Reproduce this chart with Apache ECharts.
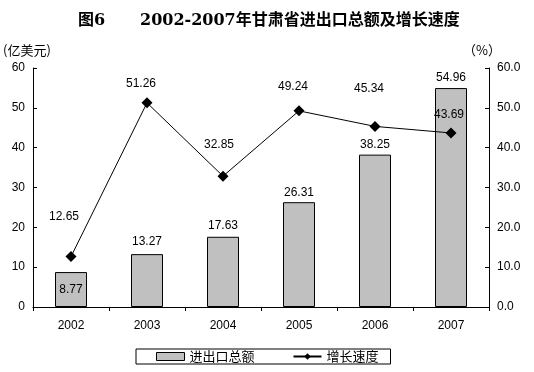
<!DOCTYPE html>
<html><head><meta charset="utf-8">
<script src="https://cdn.jsdelivr.net/npm/echarts@6/dist/echarts.min.js"></script>
<style>html,body{margin:0;padding:0;background:#fff}#c{width:534px;height:372px}</style>
</head><body><div id="c"></div>
<script>
var categories = ['2002','2003','2004','2005','2006','2007'];
var tradeTotal = [8.77, 13.27, 17.63, 26.31, 38.25, 54.96];
var growthRate = [12.65, 51.26, 32.85, 49.24, 45.34, 43.69];
var leftTicks = [0,10,20,30,40,50,60];
var rightTicks = [0,10,20,30,40,50,60];

// label styling (offsets in px), separate from data
var lineLabelOffsets = [[-7,-28],[-6,-8],[-4,-20],[-6,-13],[-6,-26],[-2,-7]];
var barLabelOffsets = [[0,0],[0,-2],[0,-1],[0,0],[0,0],[0,0]];

var font = 'Liberation Sans, Arial, sans-serif';
var chart = echarts.init(document.getElementById('c'));
chart.setOption({
  animation: false,
  title: [
    {text:'图6', left:73, top:8, textStyle:{fontSize:16, fontWeight:'bold', color:'#000', fontFamily:'"DejaVu Serif", "Noto Sans CJK SC", serif'}},
    {text:'2002-2007年甘肃省进出口总额及增长速度', left:135, top:8, textStyle:{fontSize:16, fontWeight:'bold', color:'#000', fontFamily:'"DejaVu Serif", "Noto Sans CJK SC", serif'}}
  ],
  grid: {left:31, right:45, top:68, bottom:65, containLabel:false},
  legend: {
    bottom: 8, left: 136,
    width: 252,
    borderColor:'#000', borderWidth:1, padding:[1,12,1,20],
    itemGap: 38,
    textStyle:{fontSize:13, color:'#000', fontFamily:'"Noto Sans CJK SC", sans-serif'},
    data:[{name:'进出口总额', icon:'rect', itemStyle:{borderColor:'#000', borderWidth:1}},{name:'增长速度'}],
    itemWidth: 28, itemHeight: 8
  },
  xAxis: {
    type:'category', data:categories,
    axisLine:{lineStyle:{color:'#000', width:1}},
    axisTick:{show:true, length:4, lineStyle:{color:'#000'}},
    axisLabel:{color:'#000', fontSize:12, margin:13, fontFamily:font}
  },
  yAxis: [
    {type:'value', min:leftTicks[0], max:leftTicks[leftTicks.length-1], interval:10,
     name:'(亿美元)', nameLocation:'end', nameGap:11, nameTextStyle:{color:'#000', fontSize:13, align:'left', padding:[0,0,0,-30], fontFamily:'"Noto Sans CJK SC", sans-serif'},
     axisLine:{show:true, lineStyle:{color:'#000'}},
     axisTick:{show:true, inside:true, length:4, lineStyle:{color:'#000'}},
     axisLabel:{color:'#000', fontSize:12, margin:8, fontFamily:font},
     splitLine:{show:false}},
    {type:'value', min:rightTicks[0], max:rightTicks[rightTicks.length-1], interval:10,
     name:'（%）', nameLocation:'end', nameGap:11, nameTextStyle:{color:'#000', fontSize:13, padding:[0,14,0,0], fontFamily:'"Noto Sans CJK SC", sans-serif'},
     axisLine:{show:true, lineStyle:{color:'#000'}},
     axisTick:{show:true, inside:true, length:4, lineStyle:{color:'#000'}},
     axisLabel:{color:'#000', fontSize:12, margin:8, fontFamily:font, formatter:function(v){return v.toFixed(1);}},
     splitLine:{show:false}}
  ],
  series: [
    {name:'进出口总额', type:'bar', yAxisIndex:0, barWidth:32,
     itemStyle:{color:'#c0c0c0', borderColor:'#000', borderWidth:1},
     data: tradeTotal.map(function(v,i){
       return {value:v, label: i===0 ? {position:'inside', offset:[0,0]} : {position:'top', offset:barLabelOffsets[i]}};
     }),
     label:{show:true, color:'#000', fontSize:12, fontFamily:font, distance:4, formatter:function(p){return p.value.toFixed(2);}}
    },
    {name:'增长速度', type:'line', yAxisIndex:1, symbol:'diamond', symbolSize:11,
     lineStyle:{color:'#000', width:1}, itemStyle:{color:'#000'},
     data: growthRate.map(function(v,i){return {value:v, label:{offset:lineLabelOffsets[i]}};}),
     label:{show:true, position:'top', color:'#000', fontSize:12, fontFamily:font, distance:0, formatter:function(p){return p.value.toFixed(2);}}
    }
  ]
});
</script></body></html>
